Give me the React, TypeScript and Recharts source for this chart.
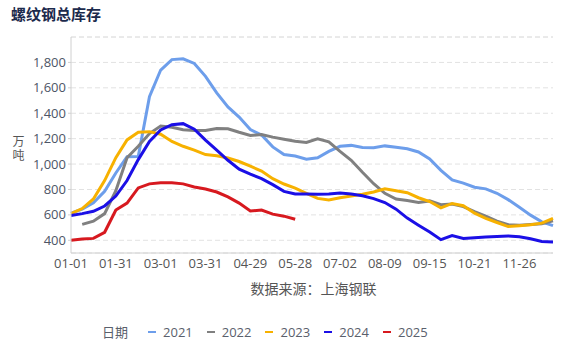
import { LineChart, Line, XAxis, YAxis, CartesianGrid, ReferenceLine } from 'recharts';

const dates = [
  '01-01', '01-08', '01-15', '01-23', '01-31', '02-07', '02-14', '02-21', '03-01', '03-08', '03-15',
  '03-23', '03-31', '04-07', '04-14', '04-21', '04-29', '05-06', '05-13', '05-20', '05-28', '06-06',
  '06-15', '06-24', '07-02', '07-11', '07-21', '07-30', '08-09', '08-18', '08-27', '09-06', '09-15',
  '09-24', '10-03', '10-12', '10-21', '10-30', '11-08', '11-17', '11-26', '12-05', '12-14', '12-23',
];

const y2021 = [
  614, 645, 695, 785, 930, 1058, 1060, 1530, 1740, 1822, 1828, 1792, 1690, 1560, 1450, 1370, 1272,
  1228, 1135, 1075, 1063, 1038, 1050, 1100, 1140, 1147, 1130, 1128, 1143, 1132, 1120, 1095, 1040,
  950, 875, 850, 818, 805, 770, 720, 660, 598, 545, 515,
];
const y2022 = [
  null, 525, 550, 610, 790, 1050, 1140, 1240, 1300, 1290, 1270, 1265, 1265, 1280, 1278, 1250, 1225,
  1232, 1212, 1195, 1180, 1170, 1198, 1175, 1100, 1030, 935, 845, 770, 725, 713, 698, 710, 680, 685,
  665, 625, 590, 550, 522, 519, 525, 530, 553,
];
const y2023 = [
  610, 650, 725, 870, 1050, 1190, 1250, 1255, 1235, 1178, 1140, 1110, 1075, 1065, 1048, 1020, 983,
  945, 885, 843, 810, 770, 730, 718, 735, 748, 762, 780, 805, 790, 775, 735, 705, 655, 690, 672, 613,
  572, 540, 508, 515, 522, 535, 572,
];
const y2024 = [
  595, 610, 628, 670, 748, 870, 1035, 1178, 1268, 1310, 1318, 1275, 1188, 1110, 1030, 960, 920, 885,
  838, 785, 764, 765, 763, 765, 772, 765, 750, 728, 697, 645, 575, 519, 465, 405, 437, 415, 420, 426,
  430, 434, 428, 412, 390, 387,
];
const y2025 = [
  400, 410, 415, 463, 638, 693, 812, 844, 852, 852, 844, 820, 804, 780, 741, 693, 630, 638, 606, 590,
  566,
];

const years = ['2021', '2022', '2023', '2024', '2025'];
const colors = ['#6d9eeb', '#808080', '#f7b100', '#1b0fe6', '#d7191f'];
const yTicks = [400, 600, 800, 1000, 1200, 1400, 1600, 1800];

const series = [y2021, y2022, y2023, y2024, y2025];
const data = dates.map((d, i) => {
  const row: Record<string, string | number | null> = { date: d };
  years.forEach((y, k) => {
    const v = series[k][i];
    row[y] = v === undefined ? null : v;
  });
  return row;
});

const font = '"Open Sans", "Noto Sans CJK SC", sans-serif';
const cjk = '"Noto Sans CJK SC", sans-serif';

export default function App() {
  return (
    <div style={{ position: 'relative', width: 565, height: 346, fontFamily: font, background: '#fff' }}>
      <style>{`body{margin:0}`}</style>
      <div style={{ position: 'absolute', left: 11, top: 3, fontSize: 15, fontWeight: 700, color: '#1c2a4c', fontFamily: cjk }}>
        螺纹钢总库存
      </div>
      <div
        style={{
          position: 'absolute', left: 12, top: 135, fontSize: 12, lineHeight: '13px', letterSpacing: 2,
          writingMode: 'vertical-rl', textOrientation: 'upright', color: '#555', fontFamily: cjk,
        }}
      >
        万吨
      </div>
      <LineChart width={565} height={346} data={data} margin={{ top: 37, right: 12, left: 0, bottom: 63 }}>
        <CartesianGrid vertical={false} stroke="#e2e2e2" strokeDasharray="5 3" />
        <ReferenceLine y={2000} stroke="#e2e2e2" strokeDasharray="5 3" />
        <XAxis
          dataKey="date"
          interval={3}
          tickLine={false}
          axisLine={{ stroke: '#d0d0d0' }}
          tick={{ fontSize: 13, fill: '#555' }}
          tickSize={4}
          height={30}
        />
        <YAxis
          type="number"
          domain={[300, 2000]}
          ticks={yTicks}
          width={71}
          tickFormatter={(v: number) => v.toLocaleString('en-US')}
          axisLine={{ stroke: '#d0d0d0' }}
          tickLine={{ stroke: '#d0d0d0' }}
          tickSize={3}
          tick={{ fontSize: 13, fill: '#4d5566' }}
          allowDataOverflow
        />
        {years.map((y, k) => (
          <Line
            key={y}
            type="linear"
            dataKey={y}
            stroke={colors[k]}
            strokeWidth={3}
            dot={false}
            activeDot={false}
            isAnimationActive={false}
          />
        ))}
      </LineChart>
      <div style={{ position: 'absolute', left: 0, width: 565, top: 278, textAlign: 'center', paddingLeft: 62, boxSizing: 'border-box', fontSize: 14, color: '#555', fontFamily: cjk }}>
        数据来源：上海钢联
      </div>
      <div style={{ position: 'absolute', left: 102, top: 322, display: 'flex', alignItems: 'center', fontSize: 13, color: '#5a606c', fontFamily: cjk }}>
        <span style={{ marginRight: 20 }}>日期</span>
        {years.map((y, k) => (
          <span key={y} style={{ display: 'flex', alignItems: 'center', marginRight: 14 }}>
            <span style={{ display: 'inline-block', width: 8, height: 2, background: colors[k], marginRight: 7 }} />
            <span style={{ fontFamily: font }}>{y}</span>
          </span>
        ))}
      </div>
    </div>
  );
}
